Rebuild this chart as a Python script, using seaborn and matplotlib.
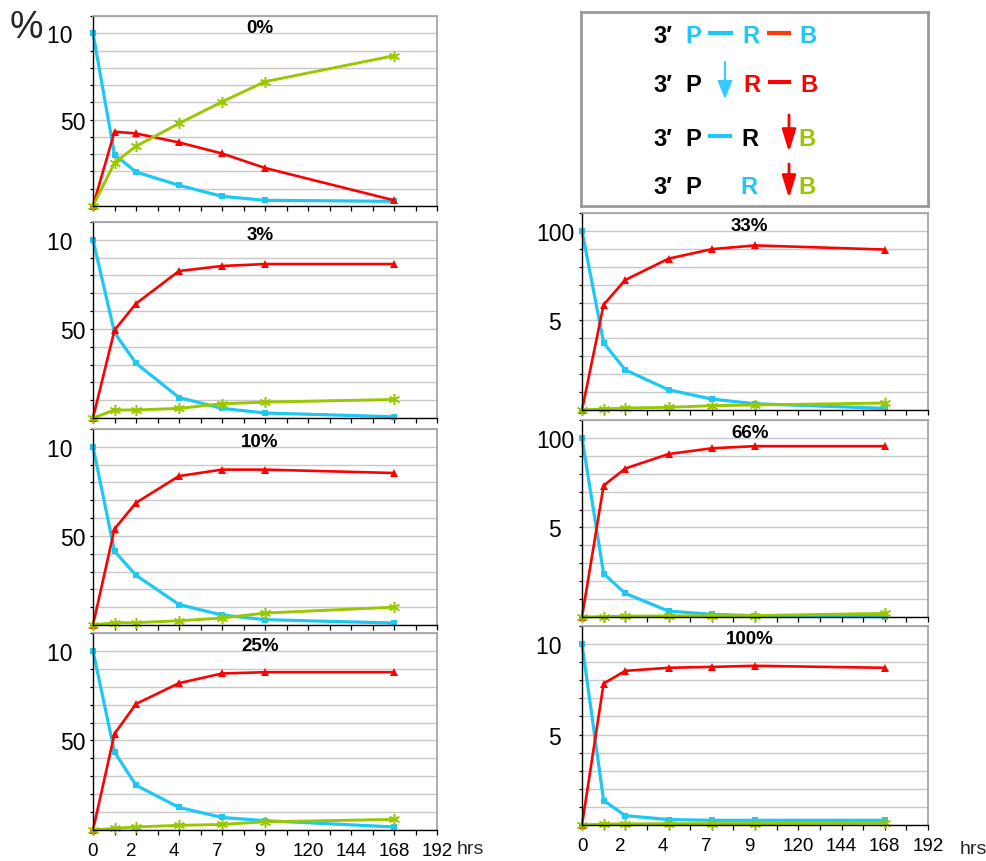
import numpy as np
import matplotlib
matplotlib.use("Agg")
import matplotlib.pyplot as plt
import seaborn as sns
import pandas as pd

# sampling times (hrs) and panel names
hours = [0, 12, 24, 48, 72, 96, 168]
panels = ["0%", "3%", "10%", "25%", "33%", "66%", "100%"]

# 3' P-R-B (intact)
intact = {
    "0%": [100, 29.8, 19.7, 12.0, 5.6, 3.3, 2.7],
    "3%": [100, 47.9, 30.7, 11.5, 5.4, 2.8, 0.7],
    "10%": [100, 41.4, 27.9, 11.5, 5.6, 3.0, 1.1],
    "25%": [100, 43.5, 25.0, 12.6, 7.0, 5.2, 1.7],
    "33%": [100, 37.5, 22.4, 11.3, 6.1, 3.5, 0.9],
    "66%": [100, 24.2, 13.2, 3.3, 1.5, 0.7, 0.2],
    "100%": [100, 13.5, 5.2, 3.0, 2.6, 2.6, 2.6],
}
# R-B released
rb = {
    "0%": [0, 43.0, 42.0, 36.8, 30.4, 22.0, 3.3],
    "3%": [0, 49.3, 64.2, 82.5, 85.3, 86.4, 86.4],
    "10%": [0, 53.9, 68.6, 83.6, 87.2, 87.2, 85.3],
    "25%": [0, 53.7, 70.4, 82.0, 87.4, 88.1, 88.1],
    "33%": [0, 58.8, 72.6, 84.5, 89.8, 91.9, 89.6],
    "66%": [0, 73.4, 82.9, 91.0, 94.2, 95.4, 95.4],
    "100%": [0, 78.2, 85.2, 86.9, 87.4, 88.0, 86.9],
}
# B released
b_free = {
    "0%": [0, 25.0, 34.6, 47.8, 60.3, 72.0, 87.0],
    "3%": [0, 4.5, 4.5, 5.4, 8.0, 8.9, 10.4],
    "10%": [0, 1.3, 1.3, 2.4, 3.9, 6.7, 10.0],
    "25%": [0, 0.9, 1.7, 2.6, 3.1, 4.6, 5.9],
    "33%": [0, 0.6, 1.1, 1.5, 2.4, 2.8, 3.9],
    "66%": [0, 0.2, 0.5, 0.6, 0.7, 0.8, 2.0],
    "100%": [0, 0.5, 0.6, 0.7, 0.8, 0.8, 1.0],
}

x_labels = ["0", "2\u2007", "4\u2007", "7\u2007", "9\u2007", "120", "144", "168", "192"]
y_labels = {
    "0%": ["10\u2007", "50"], "3%": ["10\u2007", "50"], "10%": ["10\u2007", "50"],
    "25%": ["10\u2007", "50"], "33%": ["100", "5\u2007"], "66%": ["100", "5\u2007"],
    "100%": ["10\u2007", "5\u2007"],
}

CYAN = "#1EC8F4"
RED = "#FF0000"
GREEN = "#99C800"

sns.set_style("ticks")
plt.rcParams['font.family'] = ['Liberation Sans', 'DejaVu Sans']

W, H = 986, 862
fig = plt.figure(figsize=(W / 100, H / 100), dpi=100)


def px_axes(x0, y0, x1, y1):
    return fig.add_axes([x0 / W, 1 - y1 / H, (x1 - x0) / W, (y1 - y0) / H])


boxes = {
    "0%": (93, 17, 437, 207), "3%": (93, 223, 437, 419),
    "10%": (93, 430, 437, 626), "25%": (93, 634, 437, 831),
    "33%": (582, 214, 928, 411), "66%": (582, 421, 928, 618),
    "100%": (582, 627, 928, 826),
}
bottom_panels = ["25%", "100%"]

for p in panels:
    ax = px_axes(*boxes[p])
    df = pd.DataFrame({"hrs": hours, "intact": intact[p], "rb": rb[p], "b": b_free[p]})
    sns.lineplot(data=df, x="hrs", y="intact", color=CYAN, linewidth=2.3,
                 marker="s", markersize=4, markeredgewidth=0, clip_on=False, ax=ax)
    sns.lineplot(data=df, x="hrs", y="rb", color=RED, linewidth=1.9,
                 marker="^", markersize=5.5, markeredgewidth=0, clip_on=False, ax=ax)
    sns.lineplot(data=df, x="hrs", y="b", color=GREEN, linewidth=2.1,
                 marker=(6, 2, 0), markersize=8, markeredgewidth=1.1,
                 markeredgecolor=GREEN, clip_on=False, ax=ax)

    ax.set_xlim(0, 192)
    ax.set_ylim(0, 110)
    xt = list(range(0, 193, 12))
    ax.set_xticks(xt)
    if p in bottom_panels:
        ax.set_xticklabels([x_labels[i // 2] if i % 2 == 0 else "" for i in range(len(xt))],
                           fontsize=13.5)
    else:
        ax.set_xticklabels([""] * len(xt))
    yt = list(range(0, 111, 10))
    ax.set_yticks(yt)
    ylab = {100: y_labels[p][0], 50: y_labels[p][1]}
    ax.set_yticklabels([ylab.get(v, "") for v in yt], fontsize=16.5)
    ax.set_xlabel("")
    ax.set_ylabel("")
    ax.tick_params(axis="x", direction="out", length=3.5, width=0.9, pad=5, colors="black")
    ax.tick_params(axis="y", direction="out", length=2.5, width=0.9, pad=3, colors="black")
    ax.grid(axis="y", color="#C8C8C8", linewidth=1)
    ax.set_axisbelow(True)
    for s in ["top", "right"]:
        ax.spines[s].set_visible(True)
        ax.spines[s].set_color("#A0A0A0")
        ax.spines[s].set_linewidth(1.2)
    for s in ["left", "bottom"]:
        ax.spines[s].set_color("black")
        ax.spines[s].set_linewidth(1)
    ax.text(0.485, 0.915, p, transform=ax.transAxes, ha="center", va="baseline",
            fontsize=13.5, fontweight="bold", color="black")

# legend box
lax = px_axes(581, 13, 928, 207)
lax.set_xlim(581, 928)
lax.set_ylim(207, 13)
lax.set_xticks([])
lax.set_yticks([])
for s in lax.spines.values():
    s.set_visible(True)
    s.set_color("#999999")
    s.set_linewidth(2)

fs = 17
rows = [43, 92, 146, 194]


def piece(x, y, txt, c):
    lax.text(x, y, txt, color=c, fontsize=fs, fontweight="bold", ha="left", va="baseline")


def dash(x0, x1, y, c):
    lax.plot([x0, x1], [y - 9, y - 9], color=c, linewidth=3, solid_capstyle="butt")


def arrow(x, y0, y1, c, lw, hw, hl):
    lax.annotate("", xy=(x, y1), xytext=(x, y0),
                 arrowprops=dict(arrowstyle=f"-|>,head_width={hw},head_length={hl}",
                                 color=c, lw=lw, shrinkA=0, shrinkB=0))


for y in rows:
    piece(653, y, "3\u2032", "black")

y = rows[0]
piece(685, y, "P", CYAN)
dash(708, 733, y, CYAN)
piece(742, y, "R", CYAN)
dash(767, 791, y, "#FF3A0A")
piece(799, y, "B", CYAN)

y = rows[1]
piece(685, y, "P", "black")
arrow(725, 63, 100, "#33CCFF", 1.5, 0.45, 1.1)
piece(743, y, "R", RED)
dash(768, 791, y, RED)
piece(800, y, "B", RED)

y = rows[2]
piece(685, y, "P", "black")
dash(708, 732, y, CYAN)
piece(741, y, "R", "black")
arrow(789, 116, 153, RED, 2, 0.42, 1.35)
piece(798, y, "B", GREEN)

y = rows[3]
piece(685, y, "P", "black")
piece(740, y, "R", CYAN)
arrow(789, 165, 199, RED, 2, 0.42, 1.35)
piece(798, y, "B", GREEN)

fig.text(10 / W, 1 - 38 / H, "%", fontsize=27, ha="left", va="baseline")
fig.text(457 / W, 1 - 854 / H, "hrs", fontsize=14, ha="left", va="baseline")
fig.text(960 / W, 1 - 854 / H, "hrs", fontsize=14, ha="left", va="baseline")

fig.savefig("out.png", dpi=100)
